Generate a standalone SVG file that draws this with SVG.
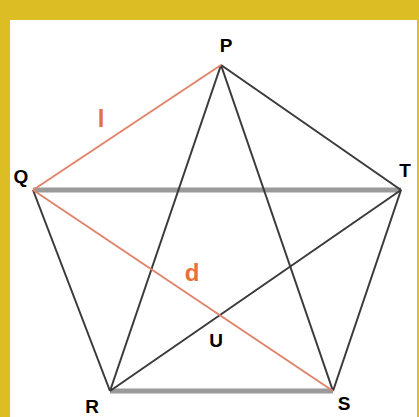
<svg xmlns="http://www.w3.org/2000/svg" width="419" height="417" viewBox="0 0 419 417">
<style>
.dk{stroke:#3a3a3a;stroke-width:2;fill:none}
.gr{stroke:#9a9a9a;stroke-width:5;fill:none}
.rd{stroke:#e0846c;stroke-width:2;fill:none}
.lb{font-family:"Liberation Sans",Arial,sans-serif;font-size:19px;font-weight:bold;fill:#000;text-anchor:middle}
.ol{font-family:"Liberation Sans",Arial,sans-serif;font-size:24px;font-weight:bold;fill:#e8703a;text-anchor:middle}
</style>
<rect x="0" y="0" width="419" height="417" fill="#ffffff"/>
<rect x="0" y="0" width="419" height="20" fill="#ddbd24"/>
<rect x="0" y="0" width="10" height="417" fill="#ddbd24"/>
<rect x="417" y="0" width="2" height="417" fill="#ddbd24"/>
<g id="connectors">
<line class="gr" x1="33" y1="190" x2="401" y2="190"/>
<line class="gr" x1="110" y1="391" x2="333" y2="391"/>
<line class="dk" x1="221" y1="65" x2="401" y2="190"/>
<line class="dk" x1="401" y1="190" x2="333" y2="391"/>
<line class="dk" x1="33" y1="190" x2="110" y2="391"/>
<line class="dk" x1="221" y1="65" x2="110" y2="391"/>
<line class="dk" x1="221" y1="65" x2="333" y2="391"/>
<line class="dk" x1="110" y1="391" x2="401" y2="190"/>
<line class="rd" x1="221" y1="65" x2="33" y2="190"/>
<line class="rd" x1="33" y1="190" x2="333" y2="391"/>
</g>
<g id="P"><text class="lb" x="226" y="52">P</text></g>
<g id="Q"><text class="lb" x="21" y="183">Q</text></g>
<g id="T"><text class="lb" x="405" y="177">T</text></g>
<g id="R"><text class="lb" x="92" y="413">R</text></g>
<g id="S"><text class="lb" x="344" y="410">S</text></g>
<g id="U"><text class="lb" x="216" y="347">U</text></g>
<g id="label-l"><text class="ol" x="101" y="127">l</text></g>
<g id="label-d"><text class="ol" x="192" y="281">d</text></g>
</svg>
